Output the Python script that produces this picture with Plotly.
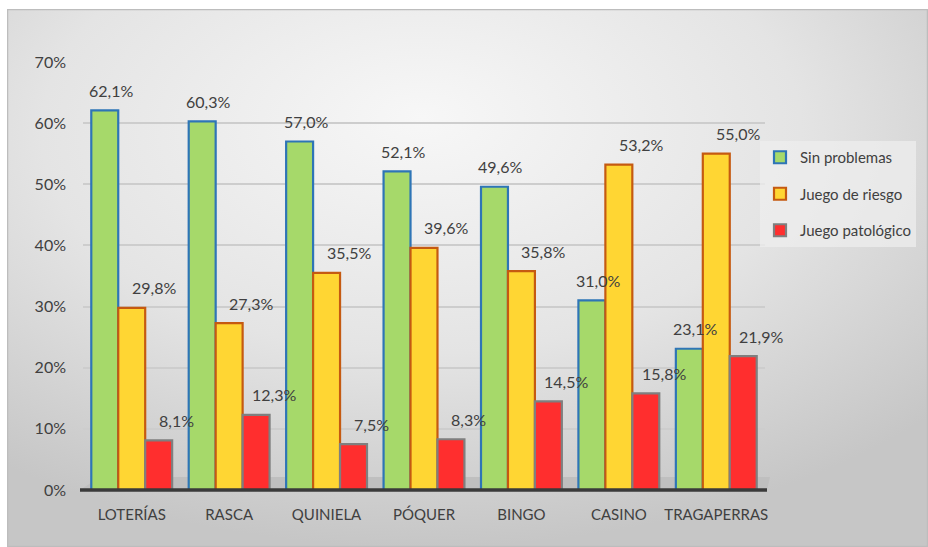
import base64
import plotly.graph_objects as go

categories = ["LOTERÍAS", "RASCA", "QUINIELA", "PÓQUER", "BINGO", "CASINO", "TRAGAPERRAS"]
sin_problemas = [62.1, 60.3, 57.0, 52.1, 49.6, 31.0, 23.1]
juego_riesgo = [29.8, 27.3, 35.5, 39.6, 35.8, 53.2, 55.0]
juego_patologico = [8.1, 12.3, 7.5, 8.3, 14.5, 15.8, 21.9]
series_names = ["Sin problemas", "Juego de riesgo", "Juego patológico"]
y_ticks = [0, 10, 20, 30, 40, 50, 60, 70]
y_tick_labels = ["0%", "10%", "20%", "30%", "40%", "50%", "60%", "70%"]

W, H = 928, 547
ML, MR, MT, MB = 83, 163, 62, 57
FONT = "Lato, 'Open Sans', sans-serif"
TXT = "#404040"
BARGAP = 0.17

fills = ["#a6d96a", "#ffd633", "#ff2e2e"]
lines = ["#2e75b6", "#c55a11", "#7f7f7f"]
label_xshift = [6, 22, 18]

pw, ph = W - ML - MR, H - MT - MB
bar_px = pw / len(categories) * (1 - BARGAP) / 3

fig = go.Figure()
all_series = [sin_problemas, juego_riesgo, juego_patologico]
for i, (name, vals, fc, lc) in enumerate(zip(series_names, all_series, fills, lines)):
    fig.add_trace(go.Bar(
        name=name, x=categories, y=vals, legendgroup=name,
        marker=dict(color=fc, line=dict(color=lc, width=2.2)),
        cliponaxis=False,
    ))
    for c, v in zip(categories, vals):
        fig.add_annotation(
            x=c, y=v, xref="x", yref="y", showarrow=False,
            text=f"{v:.1f}%".replace(".", ","),
            xshift=(i - 1) * bar_px + label_xshift[i], yshift=20,
            font=dict(family=FONT, size=16, color=TXT),
        )

# background gradient (Excel chart area style)
svg = (
    '<svg xmlns="http://www.w3.org/2000/svg" width="921" height="538" preserveAspectRatio="none">'
    '<defs><radialGradient id="g" cx="0.45" cy="0.25" r="0.75" fx="0.45" fy="0.2">'
    '<stop offset="0" stop-color="#f7f7f7"/><stop offset="0.55" stop-color="#e4e4e4"/>'
    '<stop offset="1" stop-color="#c6c6c6"/></radialGradient></defs>'
    '<rect width="921" height="538" fill="url(#g)"/>'
    '<rect x="0.5" y="0.5" width="920" height="537" fill="none" stroke="#bdbdbd" stroke-width="1.5"/>'
    '</svg>'
)
src = "data:image/svg+xml;base64," + base64.b64encode(svg.encode()).decode()
x0 = (7 - ML) / pw
x1 = (W - ML) / pw
y0 = (H - MB - 9) / ph
y1 = (H - MB - H) / ph

def px_x(p):
    return (p - ML) / pw

def px_y(p):
    return (H - MB - p) / ph

# floor of the 3D plot and its dark front edge
floor_path = (f"M {px_x(80)},{px_y(490)} L {px_x(767)},{px_y(490)} "
              f"L {px_x(770)},{px_y(477)} L {px_x(100)},{px_y(477)} Z")
shapes = [
    dict(type="path", xref="paper", yref="paper", path=floor_path,
         fillcolor="#bfbfbf", line=dict(width=0), layer="below"),
    dict(type="line", xref="paper", yref="paper", x0=px_x(80), x1=px_x(767),
         y0=px_y(490), y1=px_y(490), line=dict(color="#3a3a3a", width=3.5), layer="above"),
]

fig.update_layout(
    width=W, height=H,
    margin=dict(l=ML, r=MR, t=MT, b=MB, autoexpand=False),
    paper_bgcolor="white", plot_bgcolor="rgba(0,0,0,0)",
    separators=",.",
    barmode="group", bargap=BARGAP, bargroupgap=0,
    font=dict(family=FONT, color=TXT, size=15),
    images=[dict(source=src, xref="paper", yref="paper", x=x0, y=y0,
                 sizex=x1 - x0, sizey=y0 - y1, xanchor="left", yanchor="top",
                 sizing="stretch", layer="below")],
    shapes=shapes,
    legend=dict(x=(760 - ML) / pw, y=(H - MB - 141) / ph, xanchor="left", yanchor="top",
                bgcolor="rgba(238,238,238,0.75)", font=dict(size=15, color=TXT),
                traceorder="grouped", tracegroupgap=14, itemwidth=30),
    showlegend=True,
)
fig.update_xaxes(range=[-0.5, len(categories) - 0.5], showline=False, ticks="",
                 tickfont=dict(size=15, color=TXT), showgrid=False, ticklabelstandoff=14)
fig.update_yaxes(range=[0, 70], tickvals=y_ticks, ticktext=y_tick_labels, showgrid=True,
                 gridcolor="#cdcdcd", gridwidth=2, zeroline=False, ticks="",
                 tickfont=dict(size=16, color=TXT), ticklabelstandoff=16)

fig.write_html("out.html", post_script="document.body.style.margin='0';",
               config={"displayModeBar": False})
